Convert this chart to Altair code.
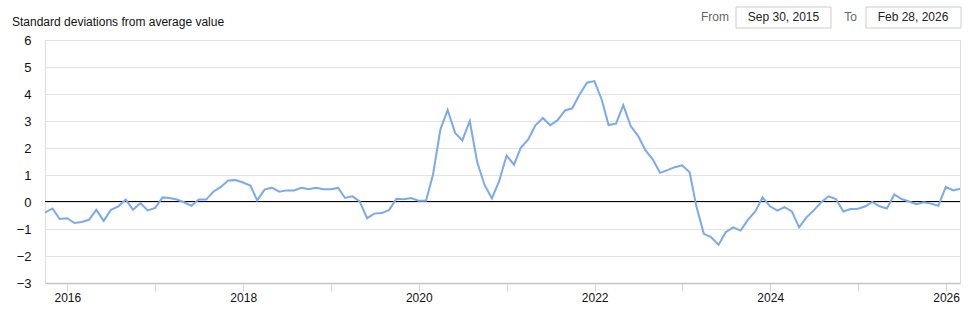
import altair as alt
import pandas as pd

# Monthly observations (month-end), Sep 2015 .. Feb 2026
start_month = "2015-09-30"
values = [
    -0.39, -0.24, -0.63, -0.60, -0.78, -0.74, -0.66, -0.29, -0.70, -0.29,
    -0.16, 0.09, -0.29, -0.04, -0.31, -0.22, 0.17, 0.15, 0.09, -0.01,
    -0.14, 0.09, 0.09, 0.39, 0.56, 0.80, 0.81, 0.72, 0.61, 0.06,
    0.46, 0.53, 0.38, 0.43, 0.43, 0.53, 0.47, 0.53, 0.47, 0.47,
    0.52, 0.15, 0.21, 0.02, -0.60, -0.43, -0.41, -0.29, 0.12, 0.10,
    0.15, 0.05, 0.05, 1.01, 2.69, 3.41, 2.56, 2.28, 3.00, 1.47,
    0.64, 0.13, 0.77, 1.72, 1.38, 2.01, 2.32, 2.84, 3.11, 2.84,
    3.03, 3.39, 3.47, 3.99, 4.42, 4.48, 3.78, 2.85, 2.90, 3.59,
    2.81, 2.46, 1.92, 1.57, 1.08, 1.18, 1.29, 1.36, 1.10, -0.16,
    -1.18, -1.30, -1.59, -1.12, -0.94, -1.06, -0.66, -0.35, 0.17, -0.16,
    -0.32, -0.19, -0.35, -0.94, -0.57, -0.31, -0.01, 0.21, 0.11, -0.35,
    -0.26, -0.25, -0.16, 0.00, -0.16, -0.24, 0.28, 0.11, 0.02, -0.08,
    -0.01, -0.06, -0.14, 0.56, 0.43, 0.49,
]
y_ticks = [-3, -2, -1, 0, 1, 2, 3, 4, 5, 6]
x_tick_years = list(range(2016, 2027))
title_text = "Standard deviations from average value"
from_text = "Sep 30, 2015"
to_text = "Feb 28, 2026"

dates = pd.date_range(start_month, periods=len(values), freq="ME")
df = pd.DataFrame({"date": dates, "value": values})

FONT = "Arial, Liberation Sans, sans-serif"

x_scale = alt.Scale(domain=[alt.DateTime(year=2015, month=9, date=30),
                            alt.DateTime(year=2026, month=2, date=28)])
y_scale = alt.Scale(domain=[-3, 6], nice=False, zero=False)

y_axis = alt.Axis(values=y_ticks, grid=True, gridColor="#e3e3e3", domain=False,
                  ticks=False, labelPadding=14, labelFont=FONT, labelFontSize=13,
                  labelColor="#111111", labelOverlap=False, labelFlush=False,
                  labelBound=False)

line = alt.Chart(df).mark_line(color="#7aaaee", strokeWidth=2).encode(
    x=alt.X("date:T", scale=x_scale, title=None,
            axis=alt.Axis(values=[alt.DateTime(year=y, month=1, date=1) for y in x_tick_years],
                          labelExpr="year(datum.value) % 2 == 0 ? timeFormat(datum.value, '%Y') : ''",
                          grid=False, domainColor="#c4c4c8", domainWidth=1.5,
                          tickColor="#ccd3e0", tickSize=8, tickWidth=1,
                          labelFont=FONT, labelFontSize=12, labelColor="#111111",
                          labelPadding=1, labelFlush=False, labelOverlap=False)),
    y=alt.Y("value:Q", scale=y_scale, title=None, axis=y_axis),
)

one = pd.DataFrame({"a": [0]})

zero_rule = alt.Chart(one).mark_rule(color="#000000", strokeWidth=1.2, yOffset=-0.5).encode(
    y=alt.YDatum(0, scale=y_scale, axis=y_axis, title=None))

title = alt.Chart(one).mark_text(align="left", baseline="middle", font=FONT, fontSize=12,
                                 color="#111111").encode(
    x=alt.value(-33), y=alt.value(-18), text=alt.value(title_text))

boxes = alt.Chart(pd.DataFrame({"x": [691, 821], "x2": [786, 916]})).mark_rect(
    fill="white", stroke="#cccccc", strokeWidth=1).encode(
    x=alt.X("x:Q", scale=None), x2="x2", y=alt.value(-33), y2=alt.value(-12))

labels_df = pd.DataFrame({
    "t": ["From", from_text, "To", to_text],
    "px": [684, 738.5, 812, 868],
    "al": ["right", "center", "right", "center"],
})
lbl_right = alt.Chart(labels_df[labels_df.al == "right"]).mark_text(
    align="right", baseline="middle", font=FONT, fontSize=12, color="#666666").encode(
    x=alt.X("px:Q", scale=None), y=alt.value(-23), text="t:N")
lbl_center = alt.Chart(labels_df[labels_df.al == "center"]).mark_text(
    align="center", baseline="middle", font=FONT, fontSize=12, color="#222222").encode(
    x=alt.X("px:Q", scale=None), y=alt.value(-23), text="t:N")

chart = alt.layer(zero_rule, line, title, boxes, lbl_right, lbl_center).properties(
    width=915, height=243,
    autosize=alt.AutoSizeParams(type="none"),
    padding={"left": 45, "top": 40, "right": 20, "bottom": 34},
).configure_view(stroke=None).configure(background="white")

chart.save("out.html", embed_options={"renderer": "svg", "actions": False})
